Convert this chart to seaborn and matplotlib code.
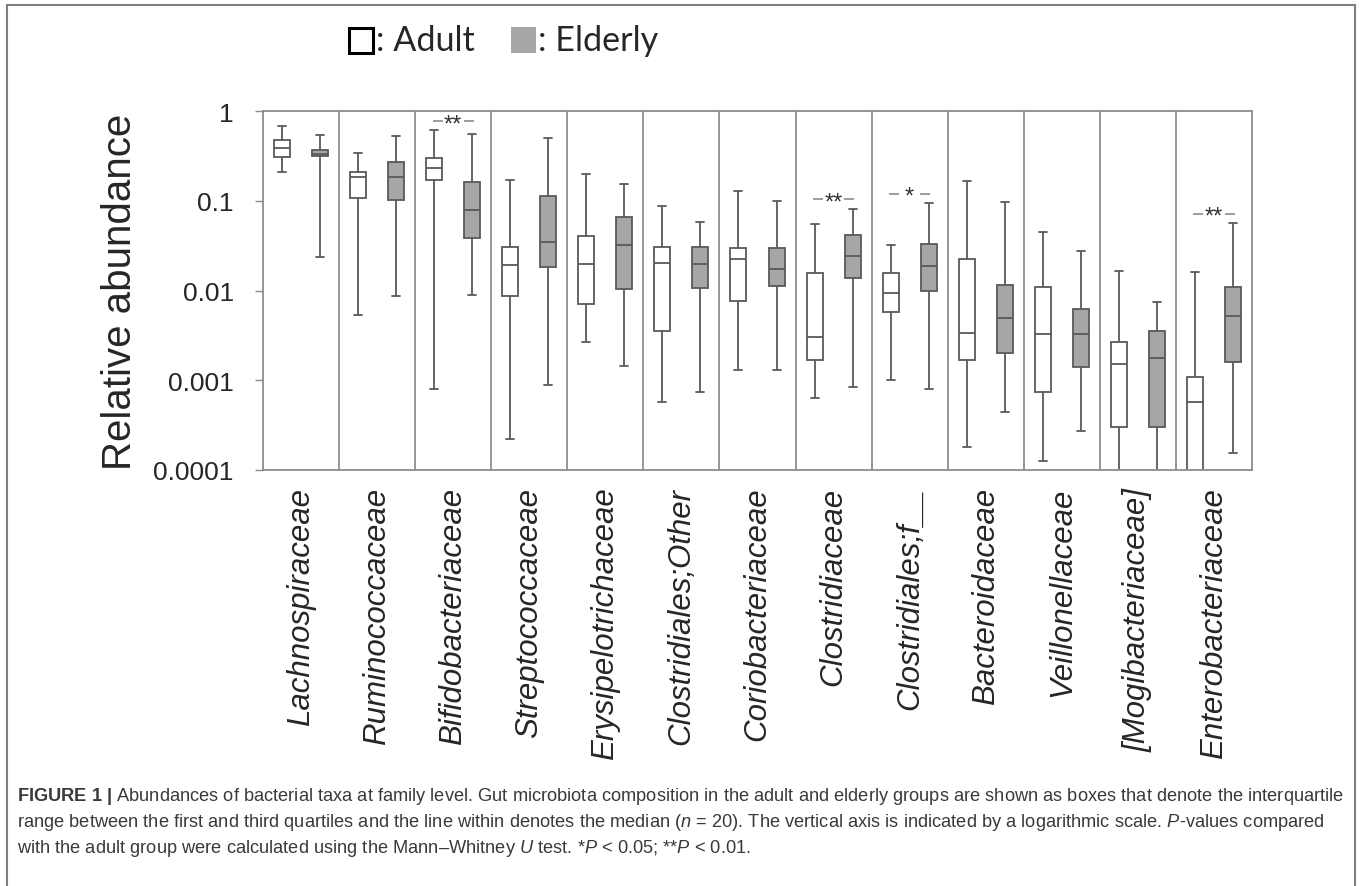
import numpy as np
import pandas as pd
import matplotlib
matplotlib.use('Agg')
import matplotlib.pyplot as plt
from matplotlib.patches import Rectangle
from matplotlib import font_manager
import seaborn as sns

# ── Data: lower whisker, Q1, median, Q3, upper whisker ──
families = ['Lachnospiraceae', 'Ruminococcaceae', 'Bifidobacteriaceae', 'Streptococcaceae',
            'Erysipelotrichaceae', 'Clostridiales;Other', 'Coriobacteriaceae', 'Clostridiaceae',
            'Clostridiales;f__', 'Bacteroidaceae', 'Veillonellaceae', '[Mogibacteriaceae]',
            'Enterobacteriaceae']

adult_lo  = [0.21, 0.0054, 0.00079, 0.00022, 0.0027, 0.00057, 0.0013, 0.00064, 0.0010, 0.00018, 0.000126, 0.00005, 0.00003]
adult_q1  = [0.307, 0.108, 0.171, 0.0086, 0.0070, 0.0035, 0.0077, 0.0017, 0.0058, 0.0017, 0.00074, 0.0003, 0.00006]
adult_med = [0.39, 0.184, 0.232, 0.0194, 0.0198, 0.0205, 0.0223, 0.0030, 0.0093, 0.0034, 0.0033, 0.0015, 0.00057]
adult_q3  = [0.475, 0.207, 0.297, 0.0306, 0.040, 0.0308, 0.0298, 0.0157, 0.0157, 0.0225, 0.0109, 0.0027, 0.00108]
adult_hi  = [0.686, 0.343, 0.608, 0.169, 0.197, 0.087, 0.128, 0.0556, 0.0322, 0.164, 0.0445, 0.0164, 0.0162]

elder_lo  = [0.0239, 0.0086, 0.0088, 0.00089, 0.00143, 0.00074, 0.00131, 0.00084, 0.00079, 0.00044, 0.00027, 0.00005, 0.000156]
elder_q1  = [0.315, 0.103, 0.0388, 0.0181, 0.0104, 0.0106, 0.0113, 0.0139, 0.0100, 0.0020, 0.0014, 0.0003, 0.0016]
elder_med = [0.334, 0.184, 0.078, 0.0344, 0.0322, 0.0196, 0.0174, 0.0243, 0.0189, 0.0049, 0.0033, 0.00176, 0.0052]
elder_q3  = [0.368, 0.268, 0.162, 0.114, 0.066, 0.0306, 0.0295, 0.0416, 0.0327, 0.0116, 0.0062, 0.0035, 0.0109]
elder_hi  = [0.54, 0.531, 0.554, 0.50, 0.154, 0.058, 0.100, 0.0817, 0.0945, 0.097, 0.0273, 0.0074, 0.0566]

significance = ['', '', '**', '', '', '', '', '**', '*', '', '', '', '**']

ytick_vals = [0.0001, 0.001, 0.01, 0.1, 1]
ytick_labels = ['0.0001', '0.001', '0.01', '0.1', '1']

caption_lines = [
    r'$\mathbf{FIGURE\ 1\ |}$ Abundances of bacterial taxa at family level. Gut microbiota composition in the adult and elderly groups are shown as boxes that denote the interquartile',
    r'range between the first and third quartiles and the line within denotes the median ($n$ = 20). The vertical axis is indicated by a logarithmic scale. $P$-values compared',
    r'with the adult group were calculated using the Mann–Whitney $U$ test. *$P$ < 0.05; **$P$ < 0.01.',
]

# ── Long-form table: the five summary values of each box ─────────────────────
rows = []
for i, fam in enumerate(families):
    for v in (adult_lo[i], adult_q1[i], adult_med[i], adult_q3[i], adult_hi[i]):
        rows.append((fam, 'Adult', v))
    for v in (elder_lo[i], elder_q1[i], elder_med[i], elder_q3[i], elder_hi[i]):
        rows.append((fam, 'Elderly', v))
df = pd.DataFrame(rows, columns=['family', 'group', 'value'])

# ── Style ────────────────────────────────────────────────────────────────────
sns.set_style('white')
plt.rcParams['font.family'] = ['Liberation Sans', 'DejaVu Sans']
installed = {f.name for f in font_manager.fontManager.ttflist}
cap_font = 'Liberation Sans Narrow' if 'Liberation Sans Narrow' in installed else 'Liberation Sans'
plt.rcParams['mathtext.fontset'] = 'custom'
plt.rcParams['mathtext.rm'] = cap_font
plt.rcParams['mathtext.it'] = cap_font + ':italic'
plt.rcParams['mathtext.bf'] = cap_font + ':bold'

LINE = '#595959'
GRID = '#8c8c8c'

fig = plt.figure(figsize=(13.6, 8.87), dpi=100)
ax = fig.add_axes([263 / 1360, 1 - 471 / 887, 989 / 1360, 359 / 887])

sns.boxplot(data=df, x='family', y='value', hue='group', order=families,
            hue_order=['Adult', 'Elderly'],
            palette={'Adult': 'white', 'Elderly': '#a6a6a6'},
            whis=(0, 100), width=1.0, gap=0.58, log_scale=True,
            linecolor=LINE, linewidth=1.3, showfliers=False, legend=False, ax=ax)

ax.set_ylim(1e-4, 1)
ax.set_xlim(-0.5, len(families) - 0.5)
ax.set_yticks(ytick_vals)
ax.set_yticklabels(ytick_labels)
ax.yaxis.set_minor_locator(matplotlib.ticker.NullLocator())
ax.tick_params(axis='y', left=True, length=6, width=1, color=GRID, pad=15, labelsize=19)
ax.tick_params(axis='x', bottom=False, length=0, pad=12, labelsize=22.5)
for lab in ax.get_xticklabels():
    lab.set_rotation(90)
    lab.set_fontstyle('italic')
ax.set_xlabel('')
ax.set_ylabel('Relative abundance', fontsize=29)
ax.yaxis.set_label_coords(-0.125, 0.5)

for s in ax.spines.values():
    s.set_visible(True)
    s.set_color(GRID)
    s.set_linewidth(1.3)

# vertical separators between families
for i in range(len(families) - 1):
    ax.axvline(i + 0.5, color=GRID, lw=1.3, zorder=0)

# significance marks above the highest whisker of each family
for i, mark in enumerate(significance):
    if not mark:
        continue
    y = max(adult_hi[i], elder_hi[i]) * 1.27
    ax.annotate(mark, (i, y), xytext=(0, -6.5), textcoords='offset points',
                ha='center', va='baseline', fontsize=17, color='#333333')
    ax.hlines([y, y], [i - 0.27, i + 0.14], [i - 0.14, i + 0.27], color=GRID, lw=1.2)

# ── Legend at top (hand-made, as in the original) ───────────────────────────
W, H = 1360, 887
fig.add_artist(Rectangle((349 / W, 1 - 54 / H), 24 / W, 25 / H, transform=fig.transFigure,
                         facecolor='white', edgecolor='black', lw=2.2))
fig.text(376 / W, 1 - 41 / H, ': Adult', fontsize=24.6, family='Lato', va='center', ha='left')
fig.add_artist(Rectangle((511 / W, 1 - 54 / H), 25 / W, 26 / H, transform=fig.transFigure,
                         facecolor='#a6a6a6', edgecolor='none'))
fig.text(538 / W, 1 - 41 / H, ': Elderly', fontsize=24.6, family='Lato', va='center', ha='left')

# ── Outer frame and caption ─────────────────────────────────────────────────
fig.add_artist(Rectangle((7 / W, -0.05), 1348 / W, 1.05 - 6 / H, transform=fig.transFigure,
                         facecolor='none', edgecolor='#7f7f7f', lw=1.5))

cap_texts = []
for k, line in enumerate(caption_lines):
    t = fig.text(17 / W, 1 - (797 + 26 * k) / H, line, fontsize=12, family=cap_font,
                 color='#3a3a3a', va='center', ha='left')
    cap_texts.append(t)
fig.canvas.draw()
w0 = cap_texts[0].get_window_extent().width
scale = (1341 - 17) / w0
for t in cap_texts:
    t.set_fontsize(12 * scale)

fig.savefig('out.png', dpi=100)
